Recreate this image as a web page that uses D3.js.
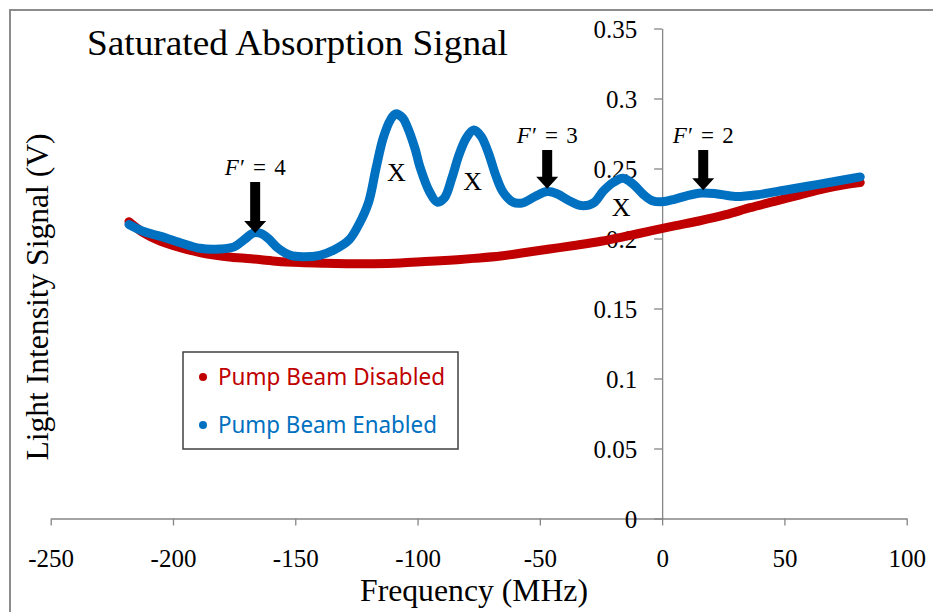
<!DOCTYPE html>
<html>
<head>
<meta charset="utf-8">
<script src="https://cdn.jsdelivr.net/npm/d3@7"></script>
<style>
  body { margin: 0; background: #fff; }
  text { font-family: "Liberation Serif", "Times New Roman", serif; fill: #000; }
  .legend text { font-family: "Noto Sans", "Open Sans", sans-serif; }
</style>
</head>
<body>
<div id="chart"></div>
<script>
// pump beam disabled (red)
var freqOff = [-218, -212, -205, -197, -189, -178, -168, -158, -148, -138, -128, -118, -107, -97, -87, -77, -66, -56, -46, -36, -25, -15, -5, 5, 15, 26, 36, 46, 56, 66, 75, 81];
var valOff  = [0.212, 0.204, 0.198, 0.1935, 0.190, 0.187, 0.1855, 0.1838, 0.1828, 0.1823, 0.182, 0.182, 0.1825, 0.1835, 0.1845, 0.1858, 0.1875, 0.190, 0.1925, 0.195, 0.198, 0.2015, 0.2053, 0.209, 0.2125, 0.217, 0.222, 0.2265, 0.231, 0.2355, 0.2385, 0.240];

// pump beam enabled (blue)
var freqOn = [-218, -212, -205, -197, -189, -181, -175, -171, -167, -164, -161, -157, -152, -147, -140, -134, -128, -124, -120, -117, -114, -111, -109, -106, -104, -101, -99, -95, -92, -89, -86, -83, -80, -77, -74, -71, -68, -65, -61, -57, -52, -47, -43, -38, -33, -28, -24, -20, -16, -12, -8, -4, 0, 5, 10, 16, 22, 30, 40, 50, 60, 70, 81];
var valOn  = [0.210, 0.205, 0.2015, 0.197, 0.193, 0.1925, 0.194, 0.199, 0.204, 0.2035, 0.200, 0.193, 0.188, 0.187, 0.188, 0.192, 0.199, 0.210, 0.226, 0.250, 0.272, 0.285, 0.289, 0.286, 0.279, 0.264, 0.251, 0.233, 0.226, 0.229, 0.243, 0.260, 0.272, 0.2775, 0.273, 0.261, 0.245, 0.233, 0.226, 0.2255, 0.230, 0.2335, 0.232, 0.227, 0.2235, 0.2255, 0.234, 0.240, 0.243, 0.239, 0.232, 0.227, 0.2262, 0.228, 0.2305, 0.2325, 0.232, 0.230, 0.2315, 0.2345, 0.2375, 0.2405, 0.244];

var xTicks = [-250, -200, -150, -100, -50, 0, 50, 100];
var yTicks = [0, 0.05, 0.1, 0.15, 0.2, 0.25, 0.3, 0.35];

// F' arrows
var arrowFreq = [-166.4, -47, 16.8];
var arrowTip  = [0.204, 0.2355, 0.2345];
var arrowTop  = [0.2404, 0.2632, 0.2632];
var arrowNum  = ["4", "3", "2"];

// crossover marks
var crossFreq = [-108.7, -77.5, -16.8];
var crossVal  = [0.2475, 0.241, 0.2229];

var legendNames = ["Pump Beam Disabled", "Pump Beam Enabled"];
var redCol = "#c00000", blueCol = "#0070c0";

var width = 933, height = 612;

var svg = d3.select("#chart").append("svg")
    .attr("width", width)
    .attr("height", height);

// chart area border (top + left only visible)
svg.append("path")
    .attr("d", "M933,10 L10,10 L10,612")
    .attr("fill", "none")
    .attr("stroke", "#8c8c8c")
    .attr("stroke-width", 2);

var x = d3.scaleLinear().domain([-250, 100]).range([50.7, 906.7]);
var y = d3.scaleLinear().domain([0, 0.35]).range([518.5, 28.5]);

// x axis along y = 0
var xAxis = svg.append("g")
    .attr("transform", "translate(0," + y(0) + ")")
    .call(d3.axisBottom(x).tickValues(xTicks).tickSize(7).tickSizeOuter(0).tickPadding(24)
        .tickFormat(function(d){ return String(d); }));

// y axis along x = 0
var yAxis = svg.append("g")
    .attr("transform", "translate(" + x(0) + ",0)")
    .call(d3.axisLeft(y).tickValues(yTicks).tickSize(8).tickSizeOuter(0).tickPadding(17)
        .tickFormat(function(d){ return d === 0 ? "0" : String(+d.toFixed(2)); }));

svg.selectAll(".domain, .tick line").attr("stroke", "#868686").attr("stroke-width", 1.3);
svg.selectAll(".tick text")
    .attr("font-family", "Liberation Serif, serif")
    .attr("font-size", 25)
    .attr("fill", "#000");
xAxis.selectAll(".tick text").attr("dy", "0.71em");
yAxis.selectAll(".tick text").attr("dy", "0.34em");

var line = d3.line()
    .x(function(d){ return x(d[0]); })
    .y(function(d){ return y(d[1]); })
    .curve(d3.curveCatmullRom);

svg.append("path")
    .datum(d3.zip(freqOff, valOff))
    .attr("d", line)
    .attr("fill", "none")
    .attr("stroke", redCol)
    .attr("stroke-width", 9)
    .attr("stroke-linecap", "round")
    .attr("stroke-linejoin", "round");

svg.append("path")
    .datum(d3.zip(freqOn, valOn))
    .attr("d", line)
    .attr("fill", "none")
    .attr("stroke", blueCol)
    .attr("stroke-width", 9)
    .attr("stroke-linecap", "round")
    .attr("stroke-linejoin", "round");

// arrows
arrowFreq.forEach(function(f, i){
  var cx = x(f), tip = y(arrowTip[i]), top = y(arrowTop[i]);
  var sw = 5, hw = 11, hh = 12;
  svg.append("path")
     .attr("d", "M" + (cx - sw) + "," + top + " L" + (cx + sw) + "," + top +
                " L" + (cx + sw) + "," + (tip - hh) + " L" + (cx + hw) + "," + (tip - hh) +
                " L" + cx + "," + tip + " L" + (cx - hw) + "," + (tip - hh) +
                " L" + (cx - sw) + "," + (tip - hh) + "Z")
     .attr("fill", "#000");
  var t = svg.append("text")
     .attr("x", cx)
     .attr("y", top - 7)
     .attr("text-anchor", "middle")
     .attr("font-size", 23)
     .attr("textLength", 61)
     .attr("lengthAdjust", "spacing");
  t.append("tspan").attr("font-style", "italic").text("F");
  t.append("tspan").text("\u2032 = " + arrowNum[i]);
});

// X marks
crossFreq.forEach(function(f, i){
  svg.append("text")
     .attr("x", x(f))
     .attr("y", y(crossVal[i]))
     .attr("dy", "0.35em")
     .attr("text-anchor", "middle")
     .attr("font-size", 26)
     .text("X");
});

// titles
svg.append("text")
    .attr("x", 87).attr("y", 55)
    .attr("font-size", 35)
    .attr("textLength", 421)
    .attr("lengthAdjust", "spacingAndGlyphs")
    .text("Saturated Absorption Signal");

svg.append("text")
    .attr("x", 474).attr("y", 601)
    .attr("text-anchor", "middle")
    .attr("font-size", 32)
    .attr("textLength", 228)
    .attr("lengthAdjust", "spacingAndGlyphs")
    .text("Frequency (MHz)");

svg.append("text")
    .attr("transform", "translate(48,297) rotate(-90)")
    .attr("text-anchor", "middle")
    .attr("font-size", 31)
    .attr("textLength", 327)
    .attr("lengthAdjust", "spacingAndGlyphs")
    .text("Light Intensity Signal (V)");

// legend
var legend = svg.append("g").attr("class", "legend");
legend.append("rect")
    .attr("x", 183).attr("y", 352)
    .attr("width", 275).attr("height", 97)
    .attr("fill", "#fff")
    .attr("stroke", "#404040")
    .attr("stroke-width", 1.5);

var legCols = [redCol, blueCol], legY = [377, 425], legW = [227, 219];
legendNames.forEach(function(name, i){
  legend.append("circle")
     .attr("cx", 203).attr("cy", legY[i]).attr("r", 4)
     .attr("fill", legCols[i]);
  legend.append("text")
     .attr("x", 218).attr("y", legY[i])
     .attr("dy", "0.36em")
     .attr("font-size", 23)
     .attr("textLength", legW[i])
     .attr("lengthAdjust", "spacingAndGlyphs")
     .style("fill", legCols[i])
     .text(name);
});
</script>
</body>
</html>
